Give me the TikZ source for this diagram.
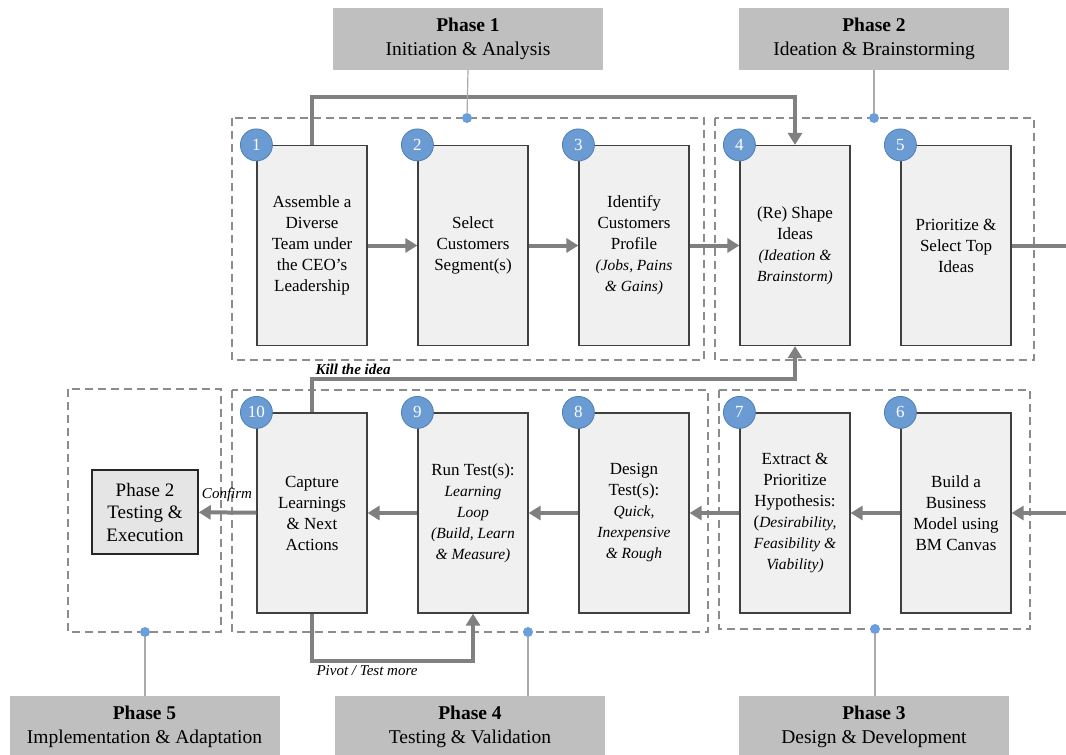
\documentclass[tikz,border=0pt]{standalone}
\usepackage{fontspec}
\setmainfont{Liberation Serif}
\usetikzlibrary{arrows.meta,calc}
\definecolor{stepfill}{HTML}{F0F0F0}
\definecolor{boxline}{HTML}{404040}
\definecolor{flowgray}{HTML}{808080}
\definecolor{phasegray}{HTML}{BFBFBF}
\definecolor{framegray}{HTML}{8C8C8C}
\definecolor{numblue}{HTML}{6A9BD2}
\definecolor{numedge}{HTML}{4F7FB5}
\definecolor{dotblue}{HTML}{6A9FDC}
\definecolor{leadgray}{HTML}{AAAAAA}
\newcommand{\smit}[1]{{\fontsize{15.5}{19}\selectfont\itshape #1}}
\begin{document}
\begin{tikzpicture}[x=1pt,y=-1pt,
  stepbox/.style={draw=boxline, fill=stepfill, line width=1.2pt,
    minimum width=110pt, minimum height=200pt, inner sep=2pt, align=center,
    font=\fontsize{17}{21}\selectfont},
  numcirc/.style={circle, fill=numblue, draw=numedge, line width=0.8pt,
    minimum size=32pt, inner sep=0pt, text=white, font=\fontsize{17}{17}\selectfont},
  phasebox/.style={fill=phasegray, minimum width=270pt, minimum height=62pt,
    inner sep=0pt, align=center, font=\fontsize{19.5}{23.5}\selectfont},
  frame/.style={draw=framegray, line width=1.4pt, dash pattern=on 8pt off 5pt},
  flowline/.style={draw=flowgray, line width=4pt},
  flow/.style={flowline, -{Triangle[length=12pt,width=14pt]}},
  lead/.style={draw=leadgray, line width=1.2pt},
  pdot/.style={circle, fill=dotblue, minimum size=10pt, inner sep=0pt},
  flowlabel/.style={font=\fontsize{15}{17}\selectfont\itshape}]

\useasboundingbox (0,0) rectangle (1066,755);

% phase frames
\draw[frame] (232,118) rectangle (704,360);
\draw[frame] (715,118) rectangle (1034,360);
\draw[frame] (68,389) rectangle (221,632);
\draw[frame] (232,390) rectangle (708,632);
\draw[frame] (719,390) rectangle (1030,629);

% steps, upper row
\node[stepbox] (b1) at (312,245.5) {Assemble a\\Diverse\\Team under\\the CEO's\\Leadership};
\node[stepbox] (b2) at (473,245.5) {Select\\Customers\\Segment(s)};
\node[stepbox] (b3) at (634,245.5) {Identify\\Customers\\Profile\\\smit{(Jobs, Pains}\\\smit{\& Gains)}};
\node[stepbox] (b4) at (795,245.5) {(Re) Shape\\Ideas\\\smit{(Ideation \&}\\\smit{Brainstorm)}};
\node[stepbox] (b5) at (956,245.5) {Prioritize \&\\Select Top\\Ideas};

% steps, lower row
\node[stepbox] (b6) at (956,513) {Build a\\Business\\Model using\\BM Canvas};
\node[stepbox] (b7) at (795,513) {Extract \&\\Prioritize\\Hypothesis:\\(\smit{Desirability,}\\\smit{Feasibility \&}\\\smit{Viability)}};
\node[stepbox] (b8) at (634,513) {Design\\Test(s):\\\smit{Quick,}\\\smit{Inexpensive}\\\smit{\& Rough}};
\node[stepbox] (b9) at (473,513) {Run Test(s):\\\smit{Learning}\\\smit{Loop}\\\smit{(Build, Learn}\\\smit{\& Measure)}};
\node[stepbox] (b10) at (312,513) {Capture\\Learnings\\\& Next\\Actions};

% final hand-over
\node[draw=black!85, fill=black!10, line width=1.5pt, minimum width=106pt,
  minimum height=84pt, align=center, inner sep=1pt,
  font=\fontsize{19}{22.5}\selectfont] (exec) at (145,512) {Phase 2\\Testing \&\\Execution};

% step numbers
\foreach \b/\n in {b1/1,b2/2,b3/3,b4/4,b5/5,b6/6,b7/7,b8/8,b9/9,b10/10}
  \node[numcirc] (n\n) at (\b.north west) {\n};

% coordinates at the page edge
\coordinate (outR) at (1066,245.5);
\coordinate (inR) at (1066,513);

% main flow
\draw[flow] (b1) -- (b2);
\draw[flow] (b2) -- (b3);
\draw[flow] (b3) -- (b4);
\draw[flowline] (b5) -- (outR);
\draw[flow] (inR) -- (b6);
\draw[flow] (b6) -- (b7);
\draw[flow] (b7) -- (b8);
\draw[flow] (b8) -- (b9);
\draw[flow] (b9) -- (b10);
\draw[flow] (b10) -- (exec);

% loops
\draw[flow] (b1.north) -- ++(0,-48) -| (b4.north);
\draw[flow] (b10.north) -- ++(0,-33) -| (b4.south);
\draw[flow] (b10.south) -- ++(0,47) -| (b9.south);

\node[flowlabel, font=\fontsize{15}{17}\selectfont\bfseries\itshape] (kill) at (353,369) {Kill the idea};
\node[flowlabel] (conf) at (227,495) {Confirm};
\node[flowlabel] (pivot) at (367,671) {Pivot / Test more};

% phase captions
\node[phasebox] (p1) at (468,39) {\textbf{Phase 1}\\Initiation \& Analysis};
\node[phasebox] (p2) at (874,39) {\textbf{Phase 2}\\Ideation \& Brainstorming};
\node[phasebox] (p3) at (874,727) {\textbf{Phase 3}\\Design \& Development};
\node[phasebox] (p4) at (470,727) {\textbf{Phase 4}\\Testing \& Validation};
\node[phasebox] (p5) at (144.5,727) {\textbf{Phase 5}\\Implementation \& Adaptation};

\node[pdot] (d1) at (467,118) {};
\node[pdot] (d2) at (874,118) {};
\node[pdot] (d3) at (875,629) {};
\node[pdot] (d4) at (528,632) {};
\node[pdot] (d5) at (145,632) {};

\draw[lead] (p1.south) -- (d1);
\draw[lead] (p2.south) -- (d2);
\draw[lead] (d3) -- (d3 |- p3.north);
\draw[lead] (d4) -- (d4 |- p4.north);
\draw[lead] (d5) -- (d5 |- p5.north);
\end{tikzpicture}
\end{document}
